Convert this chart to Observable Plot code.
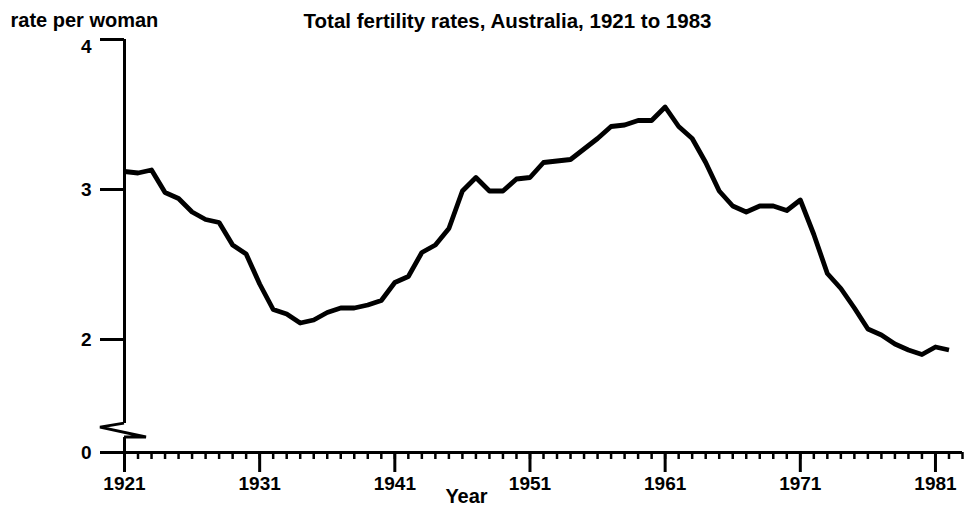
<!DOCTYPE html>
<html>
<head>
<meta charset="utf-8">
<script src="https://cdn.jsdelivr.net/npm/d3@7"></script>
<script src="https://cdn.jsdelivr.net/npm/@observablehq/plot@0.6"></script>
<style>
  body { margin: 0; background: #fff; }
  svg { display: block; }
</style>
</head>
<body>
<div id="chart"></div>
<script>
const years = [
  1921, 1922, 1923, 1924, 1925, 1926, 1927, 1928, 1929, 1930,
  1931, 1932, 1933, 1934, 1935, 1936, 1937, 1938, 1939, 1940,
  1941, 1942, 1943, 1944, 1945, 1946, 1947, 1948, 1949, 1950,
  1951, 1952, 1953, 1954, 1955, 1956, 1957, 1958, 1959, 1960,
  1961, 1962, 1963, 1964, 1965, 1966, 1967, 1968, 1969, 1970,
  1971, 1972, 1973, 1974, 1975, 1976, 1977, 1978, 1979, 1980,
  1981, 1982
];
const rates = [
  3.12, 3.11, 3.13, 2.98, 2.94, 2.85, 2.80, 2.78, 2.63, 2.57,
  2.37, 2.20, 2.17, 2.11, 2.13, 2.18, 2.21, 2.21, 2.23, 2.26,
  2.38, 2.42, 2.58, 2.63, 2.74, 2.99, 3.08, 2.99, 2.99, 3.07,
  3.08, 3.18, 3.19, 3.20, 3.27, 3.34, 3.42, 3.43, 3.46, 3.46,
  3.55, 3.42, 3.34, 3.18, 2.99, 2.89, 2.85, 2.89, 2.89, 2.86,
  2.93, 2.70, 2.44, 2.34, 2.21, 2.07, 2.03, 1.97, 1.93, 1.90,
  1.95, 1.93
];
const yTickValues = [0, 2, 3, 4];
const yTopTick = [4];
const majorYearTicks = [1921, 1931, 1941, 1951, 1961, 1971, 1981];
const minorYearTicks = d3.range(1921, 1984);
const axisBreak = [0.59, 1.14]; // span of the broken y axis (compressed 0..1.5 part)

const titleText = "Total fertility rates, Australia, 1921 to 1983";
const yLabelText = "rate per woman";
const xLabelText = "Year";

const data = years.map((year, i) => ({year, rate: rates[i]}));
const font = "'Liberation Sans', Arial, Helvetica, sans-serif";

// zig-zag break symbol on the y axis
function breakMark(index, scales) {
  const x0 = scales.x(1921);
  const yTop = scales.y(axisBreak[1]);
  const yBot = scales.y(axisBreak[0]);
  const path = d3.create("svg:path")
    .attr("d", `M${x0},${yTop}L${x0 - 24},${yTop + 4}L${x0 + 22},${yBot}L${x0},${yBot}`)
    .attr("fill", "none")
    .attr("stroke", "black")
    .attr("stroke-width", 3)
    .attr("stroke-linejoin", "miter");
  return path.node();
}

const chart = Plot.plot({
  width: 972,
  height: 505,
  marginLeft: 124,
  marginRight: 10,
  marginTop: 39,
  marginBottom: 53,
  style: {fontFamily: font, background: "#fff", color: "#000"},
  x: {type: "linear", domain: [1921, 1983]},
  // broken axis: 0..1.5 is compressed, 1.5..4 is full scale
  y: {type: "linear", domain: [0, 1.5, 4], range: [452, 414, 39]},
  marks: [
    Plot.ruleX([1921], {y1: axisBreak[1], y2: 4, strokeWidth: 3}),
    Plot.ruleX([1921], {y1: 0, y2: axisBreak[0], strokeWidth: 3}),
    breakMark,
    Plot.ruleY([0], {strokeWidth: 3}),
    Plot.axisY(yTickValues, {
      tickSize: 24, tickPadding: 9, strokeWidth: 3,
      fontSize: 19, fontWeight: "bold",
      tickFormat: d => (yTopTick.includes(d) ? "" : String(d)), label: null
    }),
    // top label sits a little below its tick in the original
    Plot.axisY(yTopTick, {
      tickSize: 0, tickPadding: 33, dy: 7,
      fontSize: 19, fontWeight: "bold", tickFormat: d => String(d), label: null
    }),
    Plot.axisX(minorYearTicks, {
      tickSize: 7, strokeWidth: 2.5, tickFormat: () => "", label: null
    }),
    Plot.axisX(majorYearTicks, {
      tickSize: 20, strokeWidth: 3, tickPadding: 4,
      fontSize: 19, fontWeight: "bold", tickFormat: d => String(d), label: null
    }),
    Plot.line(data, {
      x: "year", y: "rate", stroke: "black",
      strokeWidth: 4.8, strokeLinejoin: "round", strokeLinecap: "butt"
    }),
    Plot.text([titleText], {
      frameAnchor: "top", dx: -36, dy: -12, lineAnchor: "bottom",
      fontSize: 20.5, fontWeight: "bold"
    }),
    Plot.text([yLabelText], {
      frameAnchor: "top-left", dx: -114, dy: -13, textAnchor: "start",
      lineAnchor: "bottom", fontSize: 20, fontWeight: "bold"
    }),
    Plot.text([xLabelText], {
      frameAnchor: "bottom", dx: -77, dy: 50, lineAnchor: "bottom",
      fontSize: 20, fontWeight: "bold"
    })
  ]
});
document.getElementById("chart").appendChild(chart);
</script>
</body>
</html>
